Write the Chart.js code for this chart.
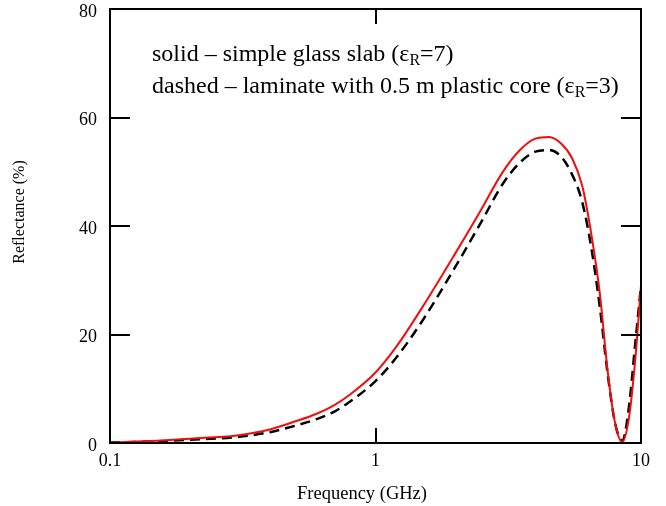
<!DOCTYPE html>
<html>
<head>
<meta charset="utf-8">
<script src="https://cdn.jsdelivr.net/npm/chart.js@4.4.1/dist/chart.umd.min.js"></script>
<style>
  html, body { margin: 0; padding: 0; background: #fff; }
  #wrap { width: 666px; height: 506px; position: relative; }
</style>
</head>
<body>
<div id="wrap"><canvas id="grafico"></canvas></div>
<script>
// frequencias (GHz)
const frequencias = [0.1, 0.15, 0.2, 0.3, 0.4, 0.5, 0.6, 0.7, 0.8, 1.0, 1.2, 1.5, 2.0, 2.5, 3.0, 3.5, 4.0, 4.5, 5.0, 5.5, 6.0, 6.5, 7.0, 7.5, 8.0, 8.5, 9.0, 9.5, 10];
// curva cheia - vidro simples (eps=7)
const vidroSimples = [0.1, 0.4, 0.8, 1.4, 2.5, 4.0, 5.4, 7.0, 8.9, 13.0, 17.8, 25.0, 35.0, 43.0, 49.8, 54.0, 56.1, 56.4, 55.2, 52.5, 47.5, 38.5, 27.5, 13.0, 3.5, 0.2, 4.5, 15.0, 29.0];
// curva tracejada - laminado com nucleo plastico (eps=3)
const laminado = [0.1, 0.3, 0.6, 1.1, 2.0, 3.2, 4.4, 5.8, 7.6, 11.4, 15.8, 22.5, 32.5, 40.7, 47.6, 51.7, 53.7, 54.0, 52.8, 49.5, 44.5, 36.0, 25.0, 12.5, 3.5, 0.4, 6.5, 18.0, 29.0];
const ticksX = [0.1, 1, 10];
const ticksY = [0, 20, 40, 60, 80];
const tituloX = "Frequency (GHz)";
const tituloY = "Reflectance (%)";
const legendaLinhas = [
    ["solid \u2013 simple glass slab (\u03b5", "R", "=7)"],
    ["dashed \u2013 laminate with 0.5 m plastic core (\u03b5", "R", "=3)"]
];

const fonte = "'Liberation Serif', 'Times New Roman', serif";

const molduraPlugin = {
    id: "molduraPlugin",
    afterDatasetsDraw(chart) {
        const { ctx, chartArea: a, scales } = chart;
        ctx.save();
        ctx.strokeStyle = "#000";
        ctx.lineWidth = 2;
        ctx.strokeRect(a.left, a.top, a.right - a.left, a.bottom - a.top);

        // marcas internas
        ticksY.slice(1, -1).forEach(v => {
            const y = Math.round(scales.y.getPixelForValue(v));
            ctx.beginPath();
            ctx.moveTo(a.left, y); ctx.lineTo(a.left + 20, y);
            ctx.moveTo(a.right, y); ctx.lineTo(a.right - 20, y);
            ctx.stroke();
        });
        ticksX.slice(1, -1).forEach(v => {
            const x = Math.round(scales.x.getPixelForValue(v));
            ctx.beginPath();
            ctx.moveTo(x, a.bottom); ctx.lineTo(x, a.bottom - 15);
            ctx.moveTo(x, a.top); ctx.lineTo(x, a.top + 15);
            ctx.stroke();
        });

        // titulos dos eixos
        ctx.fillStyle = "#000";
        ctx.textAlign = "center";
        ctx.textBaseline = "middle";
        ctx.font = "18.5px " + fonte;
        ctx.fillText(tituloX, 362, 494);
        ctx.save();
        ctx.translate(20, 212);
        ctx.rotate(-Math.PI / 2);
        ctx.font = "16px " + fonte;
        ctx.fillText(tituloY, 0, 0);
        ctx.restore();

        // legenda em texto
        ctx.textAlign = "left";
        ctx.textBaseline = "alphabetic";
        const bases = [61, 93];
        legendaLinhas.forEach((partes, i) => {
            let x = 152;
            ctx.font = "24px " + fonte;
            ctx.fillText(partes[0], x, bases[i]);
            x += ctx.measureText(partes[0]).width;
            ctx.font = "16px " + fonte;
            ctx.fillText(partes[1], x, bases[i] + 4);
            x += ctx.measureText(partes[1]).width;
            ctx.font = "24px " + fonte;
            ctx.fillText(partes[2], x, bases[i]);
        });
        ctx.restore();
    }
};

new Chart(document.getElementById("grafico"), {
    type: "line",
    data: {
        labels: frequencias,
        datasets: [
            {
                label: "solid",
                data: frequencias.map((f, i) => ({ x: f, y: vidroSimples[i] })),
                borderColor: "#f20d0d",
                borderWidth: 2,
                pointRadius: 0,
                cubicInterpolationMode: "monotone",
                fill: false
            },
            {
                label: "dashed",
                data: frequencias.map((f, i) => ({ x: f, y: laminado[i] })),
                borderColor: "#000",
                borderWidth: 2.5,
                borderDash: [10, 6],
                pointRadius: 0,
                cubicInterpolationMode: "monotone",
                fill: false
            }
        ]
    },
    options: {
        responsive: true,
        maintainAspectRatio: false,
        animation: false,
        layout: { padding: { top: 9, right: 25, left: 0, bottom: 0 } },
        plugins: {
            legend: { display: false },
            tooltip: { enabled: false }
        },
        scales: {
            x: {
                type: "logarithmic",
                min: 0.1,
                max: 10,
                afterBuildTicks(scale) {
                    scale.ticks = ticksX.map(v => ({ value: v }));
                },
                afterFit(scale) {
                    scale.height = 63;
                    scale.paddingLeft = 0;
                    scale.paddingRight = 0;
                },
                grid: { display: false, drawTicks: false },
                border: { display: false },
                ticks: {
                    color: "#000",
                    padding: 7,
                    maxRotation: 0,
                    autoSkip: false,
                    font: { family: fonte, size: 18 },
                    callback: v => String(v)
                }
            },
            y: {
                min: 0,
                max: 80,
                afterBuildTicks(scale) {
                    scale.ticks = ticksY.map(v => ({ value: v }));
                },
                afterFit(scale) {
                    scale.width = 110;
                    scale.paddingTop = 0;
                    scale.paddingBottom = 0;
                },
                grid: { display: false, drawTicks: false },
                border: { display: false },
                ticks: {
                    color: "#000",
                    padding: 13,
                    labelOffset: 3,
                    font: { family: fonte, size: 18 }
                }
            }
        }
    },
    plugins: [molduraPlugin]
});
</script>
</body>
</html>
